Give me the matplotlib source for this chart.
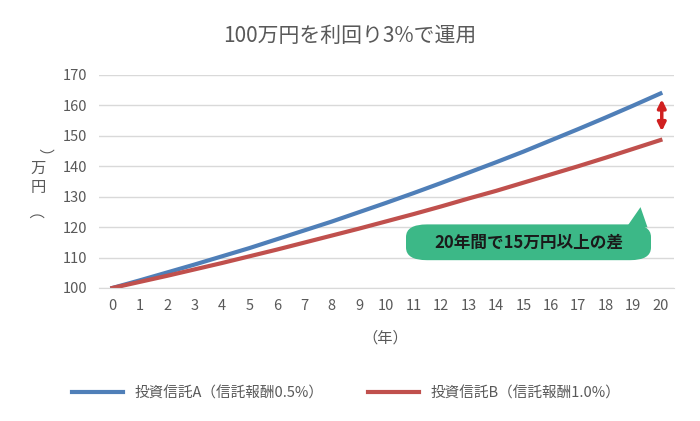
import matplotlib
matplotlib.use("Agg")
import matplotlib.pyplot as plt
from matplotlib.patches import FancyBboxPatch, Polygon

plt.rcParams["font.family"] = "Noto Sans CJK JP"

years = list(range(0, 21))
fund_a = [100, 102.5, 105.1, 107.7, 110.4, 113.1, 116.0, 118.9, 121.8, 124.9, 128.0,
          131.2, 134.5, 137.9, 141.3, 144.8, 148.5, 152.2, 156.0, 159.9, 163.9]
fund_b = [100, 102.0, 104.0, 106.1, 108.2, 110.4, 112.6, 114.9, 117.2, 119.5, 121.9,
          124.3, 126.8, 129.4, 131.9, 134.6, 137.3, 140.0, 142.8, 145.7, 148.6]
label_a = "投資信託A（信託報酬0.5%）"
label_b = "投資信託B（信託報酬1.0%）"
yticks = [100, 110, 120, 130, 140, 150, 160, 170]

fig = plt.figure(figsize=(7, 4.21), dpi=100)
ax = fig.add_axes([0.141, 0.316, 0.822, 0.506])
ax.plot(years, fund_a, color="#4f7fb8", lw=3, label=label_a)
ax.plot(years, fund_b, color="#c0504d", lw=3, label=label_b)
ax.set_xlim(-0.5, 20.5)
ax.set_ylim(100, 170)
ax.set_xticks(years)
ax.set_yticks(yticks)
ax.grid(axis="y", color="#d9d9d9", lw=1)
ax.set_axisbelow(True)
for s in ["top", "right", "left"]:
    ax.spines[s].set_visible(False)
ax.spines["bottom"].set_color("#d9d9d9")
ax.tick_params(length=0, labelsize=10.5, colors="#595959", pad=8)

fig.text(0.5, 0.915, "100万円を利回り3%で運用", ha="center", va="center", fontsize=15, color="#595959")
# vertical y label with upright characters
fig.text(0.055, 0.655, "（", rotation=90, ha="center", va="center", fontsize=11, color="#595959")
fig.text(0.055, 0.6, "万", ha="center", va="center", fontsize=11, color="#595959")
fig.text(0.055, 0.555, "円", ha="center", va="center", fontsize=11, color="#595959")
fig.text(0.055, 0.5, "）", rotation=90, ha="center", va="center", fontsize=11, color="#595959")
fig.text(0.55, 0.197, "（年）", ha="center", va="center", fontsize=11, color="#595959")
ax.legend(loc="upper center", bbox_to_anchor=(0.43, -0.4), ncol=2, frameon=False,
          fontsize=10.5, labelcolor="#595959", handlelength=3.5, columnspacing=3)

# difference arrow
ax.annotate("", xy=(20.05, fund_a[-1] - 1), xytext=(20.05, fund_b[-1] + 2),
            arrowprops=dict(arrowstyle="<|-|>", color="#d02020", lw=2.5, mutation_scale=12))

# callout
box = FancyBboxPatch((0.58, 0.382), 0.35, 0.085, boxstyle="round,pad=0,rounding_size=0.03",
                     transform=fig.transFigure, facecolor="#3cb887", edgecolor="none")
fig.patches.append(box)
tail = Polygon([[0.895, 0.46], [0.915, 0.508], [0.925, 0.46]], closed=True,
               transform=fig.transFigure, facecolor="#3cb887", edgecolor="none")
fig.patches.append(tail)
fig.text(0.755, 0.424, "20年間で15万円以上の差", ha="center", va="center",
         fontsize=12, fontweight="bold", color="#1a1a1a")

fig.savefig("out.png")
